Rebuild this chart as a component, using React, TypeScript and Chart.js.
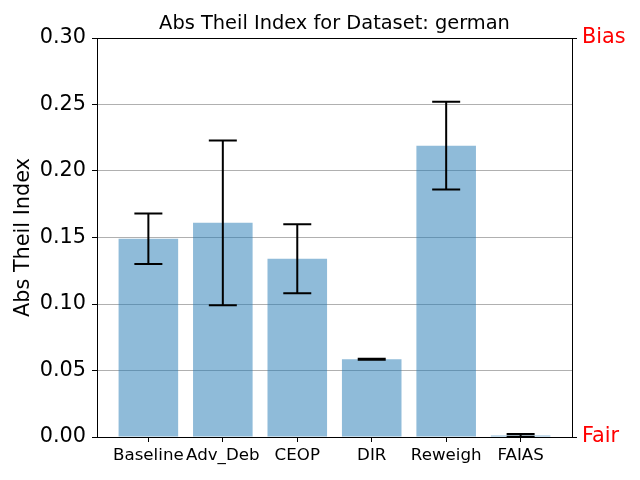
import React, { useEffect, useRef } from "react";
import { Chart, registerables } from "chart.js";

Chart.register(...registerables);

const categories = ["Baseline", "Adv_Deb", "CEOP", "DIR", "Reweigh", "FAIAS"];
const values = [0.149, 0.161, 0.134, 0.0585, 0.219, 0.0012];
const errors = [0.019, 0.062, 0.026, 0.0004, 0.033, 0.001];
const yTicks = [0, 0.05, 0.1, 0.15, 0.2, 0.25, 0.3];
const rightLabels = ["Fair", "Bias"];
const titleText = "Abs Theil Index for Dataset: german";
const yLabel = "Abs Theil Index";

const errorBarPlugin = {
  id: "errorBars",
  afterDatasetsDraw(chart: any) {
    const xs = chart.scales.x;
    const ys = chart.scales.y;
    const ctx = chart.ctx;
    ctx.save();
    ctx.strokeStyle = "#000";
    ctx.lineWidth = 2;
    values.forEach((v, i) => {
      const x = xs.getPixelForValue(i);
      const lo = ys.getPixelForValue(v - errors[i]);
      const hi = ys.getPixelForValue(v + errors[i]);
      ctx.beginPath();
      ctx.moveTo(x, lo);
      ctx.lineTo(x, hi);
      ctx.moveTo(x - 14, lo);
      ctx.lineTo(x + 14, lo);
      ctx.moveTo(x - 14, hi);
      ctx.lineTo(x + 14, hi);
      ctx.stroke();
    });
    ctx.restore();
  },
};

const titlePlugin = {
  id: "axesTitle",
  afterDraw(chart: any) {
    const ctx = chart.ctx;
    const a = chart.chartArea;
    ctx.save();
    ctx.font = "19.4px 'DejaVu Sans', sans-serif";
    ctx.fillStyle = "#000";
    ctx.textAlign = "center";
    ctx.textBaseline = "alphabetic";
    ctx.fillText(titleText, (a.left + a.right) / 2, a.top - 9);
    ctx.restore();
  },
};

export default function App() {
  const ref = useRef<HTMLCanvasElement | null>(null);
  useEffect(() => {
    if (!ref.current) return;
    Chart.defaults.font.family = "'DejaVu Sans', sans-serif";
    Chart.defaults.color = "#000";
    const chart = new Chart(ref.current, {
      type: "bar",
      data: {
        datasets: [
          {
            data: values.map((v, i) => ({ x: i, y: v })),
            backgroundColor: "rgba(31,119,180,0.5)",
            borderWidth: 0,
            barPercentage: 0.8,
            categoryPercentage: 1.0,
          },
        ],
      },
      options: {
        animation: false,
        responsive: true,
        maintainAspectRatio: false,
        layout: { padding: { top: 38, left: 0, right: 0, bottom: 0 } },
        plugins: {
          legend: { display: false },
          tooltip: { enabled: false },
          title: { display: false },
        },
        scales: {
          x: {
            type: "linear",
            min: -0.69,
            max: 5.69,
            offset: false,
            afterBuildTicks: (s: any) => {
              s.ticks = categories.map((_, i) => ({ value: i }));
            },
            afterFit: (s: any) => {
              s.height = 43;
            },
            ticks: {
              autoSkip: false,
              maxRotation: 0,
              minRotation: 0,
              padding: 4,
              font: { size: 16.67 },
              color: "#000",
              callback: (v: any) => categories[v] ?? "",
            },
            grid: {
              offset: false,
              drawOnChartArea: false,
              drawTicks: true,
              tickLength: 5,
              tickColor: "#000",
            },
            border: { display: true, color: "#000", width: 1 },
          },
          x2: {
            type: "linear",
            position: "top",
            min: 0,
            max: 1,
            afterFit: (s: any) => {
              s.height = 0;
            },
            ticks: { display: false },
            grid: { drawOnChartArea: false, drawTicks: false },
            border: { display: true, color: "#000", width: 1 },
          },
          y: {
            type: "linear",
            position: "left",
            min: 0,
            max: 0.3,
            afterBuildTicks: (s: any) => {
              s.ticks = yTicks.map((v) => ({ value: v }));
            },
            afterFit: (s: any) => {
              s.width = 97;
            },
            ticks: {
              padding: 6,
              font: { size: 20.8 },
              color: "#000",
              callback: (v: any) => Number(v).toFixed(2),
            },
            title: {
              display: true,
              text: yLabel,
              font: { size: 20.8 },
              color: "#000",
              padding: { top: 11, bottom: 0 },
            },
            grid: {
              color: "#b0b0b0",
              lineWidth: 1,
              tickLength: 5,
              tickColor: "#000",
            },
            border: { display: true, color: "#000", width: 1 },
          },
          y2: {
            type: "linear",
            position: "right",
            min: 0,
            max: 0.3,
            afterBuildTicks: (s: any) => {
              s.ticks = [{ value: 0 }, { value: 0.3 }];
            },
            afterFit: (s: any) => {
              s.width = 68;
            },
            ticks: {
              padding: 5,
              font: { size: 20.8 },
              color: "red",
              callback: (v: any) => (Number(v) === 0 ? rightLabels[0] : rightLabels[1]),
            },
            grid: {
              drawOnChartArea: false,
              tickLength: 5,
              tickColor: "#000",
            },
            border: { display: true, color: "#000", width: 1 },
          },
        },
      },
      plugins: [errorBarPlugin, titlePlugin],
    } as any);
    return () => chart.destroy();
  }, []);
  return (
    <div style={{ position: "fixed", left: 0, top: 0, width: 640, height: 480, background: "#fff" }}>
      <canvas ref={ref} />
    </div>
  );
}
